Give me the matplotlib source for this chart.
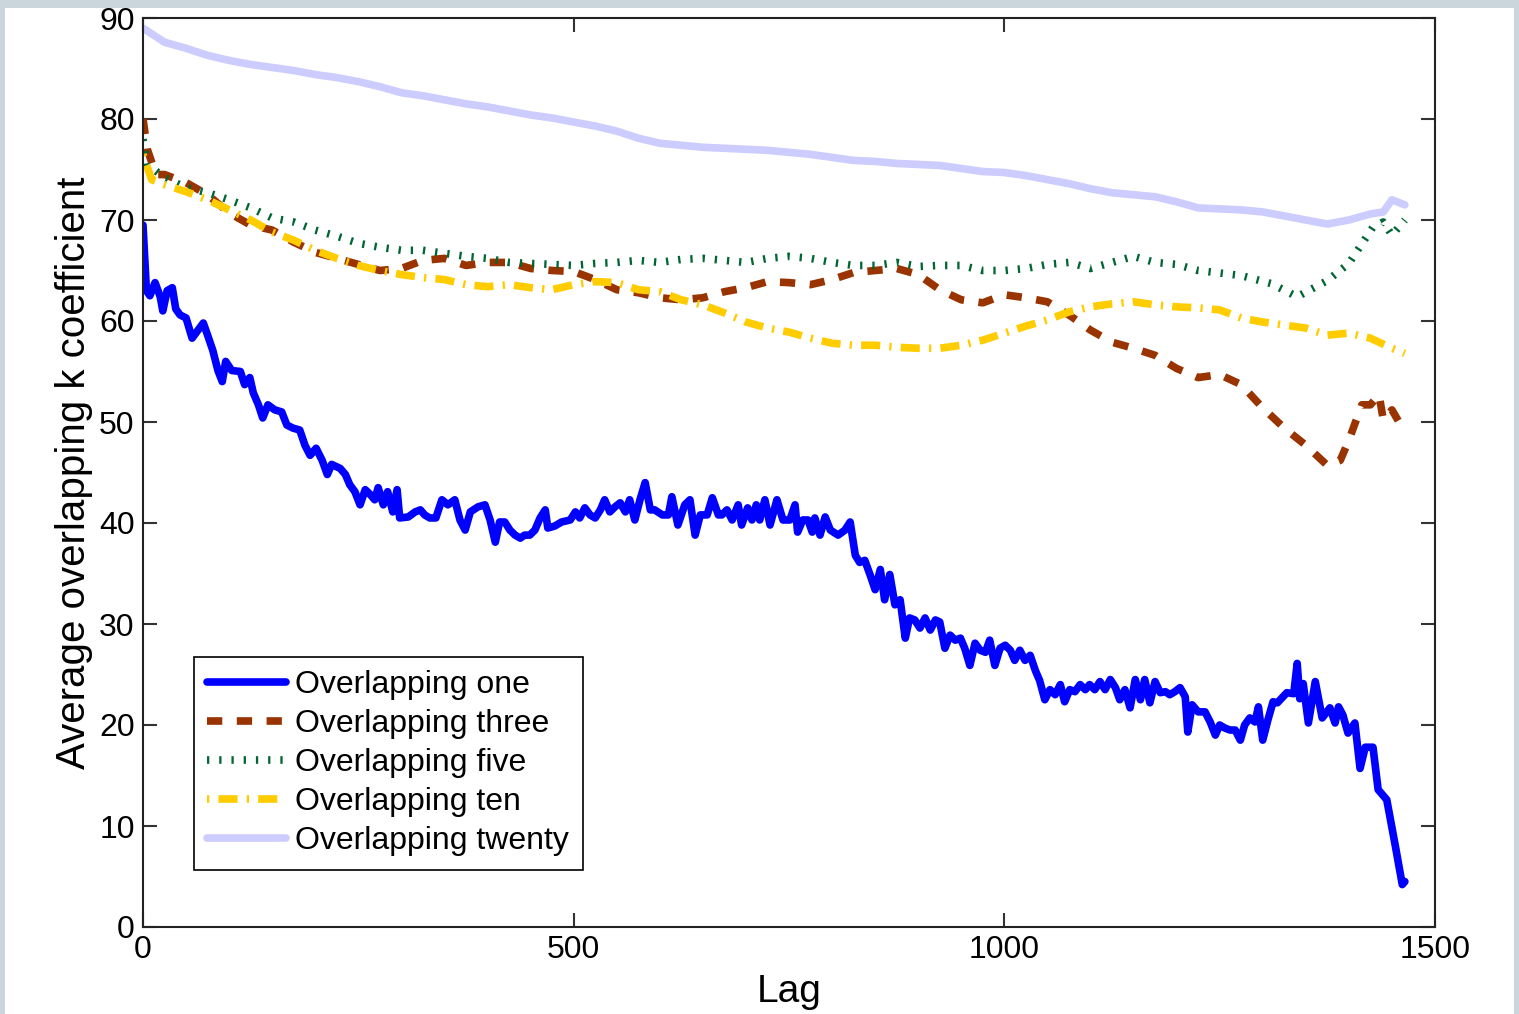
import numpy as np
import matplotlib.pyplot as plt
from matplotlib.patches import Rectangle

plt.rcParams['font.family'] = ['Liberation Sans', 'DejaVu Sans']

# overlapping one (irregular lags)
lag_one = [0, 4, 8, 14, 20, 23, 28, 34, 38, 43, 50, 57, 63, 70, 75, 81, 87, 92, 96, 103,
           113, 118, 124, 128, 134, 139, 145, 153, 161, 167, 174, 182, 188, 194, 201, 208,
           214, 219, 229, 235, 240, 246, 252, 258, 264, 269, 273, 279, 284, 290, 295, 298,
           308, 316, 322, 327, 333, 340, 347, 354, 362, 368, 374, 380, 389, 397, 403, 409,
           414, 420, 426, 432, 438, 443, 449, 455, 461, 467, 470, 478, 486, 496, 502, 507,
           513, 519, 525, 531, 536, 542, 548, 554, 560, 565, 571, 577, 583, 589, 594, 603,
           610, 614, 621, 629, 635, 641, 647, 655, 661, 668, 672, 678, 684, 691, 695, 702,
           707, 712, 716, 722, 728, 736, 743, 751, 757, 760, 766, 772, 777, 780, 786, 792,
           798, 807, 815, 821, 827, 832, 838, 844, 850, 856, 861, 867, 873, 879, 885, 890,
           896, 902, 908, 914, 920, 925, 931, 937, 943, 949, 954, 960, 966, 972, 978, 983,
           989, 995, 1001, 1007, 1012, 1018, 1024, 1030, 1036, 1041, 1047, 1053, 1059, 1065,
           1070, 1076, 1082, 1088, 1094, 1099, 1105, 1111, 1117, 1123, 1129, 1134, 1140, 1146,
           1152, 1158, 1163, 1169, 1175, 1181, 1187, 1192, 1198, 1204, 1210, 1213, 1218, 1225,
           1233, 1239, 1245, 1250, 1256, 1262, 1268, 1274, 1279, 1285, 1291, 1295, 1300, 1306,
           1312, 1317, 1328, 1336, 1340, 1343, 1347, 1353, 1361, 1369, 1378, 1384, 1388, 1393,
           1399, 1407, 1413, 1419, 1428, 1434, 1444, 1454, 1462, 1465]
one = [69.5, 63, 62.5, 63.8, 62.4, 61, 63, 63.3, 61.2, 60.6, 60.3, 58.3, 59, 59.8, 58.6, 57.1,
       55.1, 54, 56, 55.1, 55, 53.7, 54.4, 52.9, 51.7, 50.4, 51.7, 51.2, 51, 49.7, 49.4, 49.2,
       47.7, 46.7, 47.4, 46.2, 44.8, 45.8, 45.4, 44.8, 43.8, 43.1, 41.8, 43.3, 42.8, 42.3, 43.5,
       41.8, 43.1, 41.1, 43.3, 40.5, 40.6, 41.1, 41.3, 40.8, 40.5, 40.5, 42.3, 41.8, 42.3, 40.3,
       39.3, 41.1, 41.6, 41.8, 40.3, 38.1, 40.1, 40.1, 39.3, 38.8, 38.5, 38.8, 38.8, 39.3, 40.5,
       41.3, 39.5, 39.7, 40.1, 40.3, 41.1, 40.5, 41.5, 40.8, 40.5, 41.3, 42.3, 41.1, 41.6, 42,
       41.1, 42.3, 40.3, 42.3, 44, 41.3, 41.3, 40.8, 40.8, 42.6, 39.8, 41.8, 42.3, 38.8, 40.8,
       40.8, 42.5, 40.8, 40.8, 41.3, 40.3, 41.8, 39.8, 41.5, 40.3, 41.8, 40.3, 42.3, 39.8, 42.3,
       40.3, 40.3, 41.8, 39.1, 40.3, 40.3, 39.1, 40.5, 38.8, 40.6, 39.3, 38.8, 39.3, 40.1, 36.8,
       36.1, 36.3, 34.9, 33.4, 35.4, 32.4, 34.9, 31.9, 32.4, 28.6, 30.6, 30.4, 29.6, 30.6, 29.4,
       30.4, 30.2, 27.6, 28.9, 28.4, 28.6, 27.6, 25.9, 28.1, 27.4, 27.2, 28.4, 25.9, 27.6, 27.9,
       27.4, 26.4, 27.4, 26.4, 26.9, 25.4, 24.4, 22.5, 23.5, 23, 24, 22.3, 23.5, 23.3, 24, 23.5,
       24, 23.5, 24.3, 23.5, 24.5, 23.7, 22.5, 23.5, 21.7, 24.5, 22.5, 24.5, 22.2, 24.3, 23.2,
       23.3, 23, 23.3, 23.7, 22.8, 19.3, 22, 21.3, 21.3, 20.3, 19, 20, 19.7, 19.5, 19.5, 18.5,
       20, 20.7, 20.3, 21.8, 18.5, 20.5, 22.3, 22.2, 23.2, 23.1, 26.1, 22.6, 24.1, 20.2, 24.3,
       20.7, 21.7, 20.2, 21.8, 21.0, 19.2, 20.2, 15.7, 17.8, 17.8, 13.6, 12.6, 8.0, 4.2, 4.5]

# smoother series, read every 25 lags plus the ends
lag_three = [0, 5, 15, 25, 50, 75, 100, 125, 150, 175, 200, 225, 250, 275, 300, 325, 350, 375,
             400, 425, 450, 475, 500, 525, 550, 575, 600, 625, 650, 675, 700, 725, 750, 775,
             800, 825, 850, 875, 900, 925, 950, 975, 1000, 1025, 1050, 1075, 1100, 1125, 1150,
             1175, 1200, 1225, 1250, 1275, 1300, 1325, 1350, 1375, 1390, 1400, 1415, 1425, 1435,
             1440, 1450, 1465]
three = [80, 77, 74.5, 74.5, 73.7, 72.5, 70.7, 69.5, 69.0, 67.8, 66.8, 66.2, 65.6, 65.0, 65.2,
         66.0, 66.2, 65.5, 65.8, 65.8, 65.2, 65.0, 64.9, 64.1, 63.1, 62.8, 62.3, 62.1, 62.3, 62.9,
         63.3, 63.9, 63.8, 63.6, 64.1, 64.8, 65.0, 65.2, 64.6, 63.1, 62.1, 61.8, 62.6, 62.3, 61.9,
         60.6, 59.1, 57.9, 57.3, 56.6, 55.3, 54.4, 54.7, 53.7, 51.4, 49.4, 47.7, 45.7, 46.2, 48.2,
         51.7, 51.7, 52.7, 50.2, 51.2, 49.0]

lag_five = [0, 5, 25, 50, 75, 100, 125, 150, 175, 200, 225, 250, 275, 300, 325, 350, 375, 400,
            425, 450, 475, 500, 525, 550, 575, 600, 625, 650, 675, 700, 725, 750, 775, 800, 825,
            850, 875, 900, 925, 950, 975, 1000, 1025, 1050, 1075, 1100, 1125, 1150, 1175, 1200,
            1225, 1275, 1310, 1340, 1375, 1400, 1428, 1440, 1450, 1465]
five = [78, 75.5, 74.2, 73.2, 72.7, 72.0, 71.2, 70.2, 69.8, 69.0, 68.4, 67.7, 67.3, 67.0, 67.0,
        66.7, 66.4, 66.2, 65.8, 65.7, 65.6, 65.5, 65.7, 65.8, 66.0, 65.8, 66.1, 66.2, 66.0, 65.8,
        66.2, 66.4, 66.2, 65.8, 65.5, 65.5, 65.8, 65.4, 65.5, 65.5, 65.0, 65.0, 65.2, 65.6, 65.8,
        65.2, 65.8, 66.4, 65.8, 65.6, 65.0, 64.5, 63.7, 62.4, 64.0, 65.7, 69.3, 69.8, 68.5, 70.0]

lag_ten = [0, 10, 25, 50, 75, 100, 125, 150, 175, 200, 225, 250, 275, 300, 325, 350, 375, 400,
           425, 450, 475, 500, 525, 550, 575, 600, 625, 650, 675, 700, 725, 750, 775, 800, 825,
           850, 875, 900, 925, 950, 975, 1000, 1025, 1050, 1075, 1100, 1125, 1150, 1175, 1200,
           1225, 1250, 1275, 1300, 1325, 1350, 1375, 1400, 1425, 1450, 1465]
ten = [76.5, 74, 73.5, 72.8, 72.0, 71.0, 70.0, 68.8, 68.0, 67.0, 66.2, 65.5, 65.0, 64.6, 64.3,
       64.1, 63.6, 63.4, 63.6, 63.3, 63.1, 63.6, 63.9, 63.8, 63.1, 62.9, 62.1, 61.6, 60.8, 59.9,
       59.3, 58.9, 58.3, 57.8, 57.6, 57.6, 57.4, 57.3, 57.3, 57.6, 58.1, 58.8, 59.5, 60.1, 60.9,
       61.4, 61.7, 61.9, 61.6, 61.4, 61.3, 61.1, 60.3, 59.9, 59.6, 59.3, 58.6, 58.8, 58.3, 57.3,
       56.8]

lag_twenty = [0, 25, 50, 75, 100, 125, 150, 175, 200, 225, 250, 275, 300, 325, 350, 375, 400,
              425, 450, 475, 500, 525, 550, 575, 600, 625, 650, 675, 700, 725, 750, 775, 800,
              825, 850, 875, 900, 925, 950, 975, 1000, 1025, 1050, 1075, 1100, 1125, 1150, 1175,
              1200, 1225, 1250, 1275, 1300, 1325, 1350, 1375, 1400, 1425, 1440, 1450, 1465]
twenty = [89, 87.6, 87.0, 86.3, 85.8, 85.4, 85.1, 84.8, 84.4, 84.1, 83.7, 83.2, 82.6, 82.3, 81.9,
          81.5, 81.2, 80.8, 80.4, 80.1, 79.7, 79.3, 78.8, 78.1, 77.6, 77.4, 77.2, 77.1, 77.0, 76.9,
          76.7, 76.5, 76.2, 75.9, 75.8, 75.6, 75.5, 75.4, 75.1, 74.8, 74.7, 74.4, 74.0, 73.6, 73.1,
          72.7, 72.5, 72.3, 71.8, 71.2, 71.1, 71.0, 70.8, 70.4, 70.0, 69.6, 70.0, 70.6, 70.8, 72.0,
          71.5]

fig = plt.figure(figsize=(15.19, 10.14), dpi=100, facecolor='#cbd5dc')
fig.patches.append(Rectangle((5 / 1519, 0), 1509 / 1519, 1006 / 1014,
                             transform=fig.transFigure, facecolor='white', edgecolor='none',
                             zorder=-10))
ax = fig.add_axes([143 / 1519, 1 - 927 / 1014, 1292 / 1519, 909 / 1014])

lw = 5.5
ax.plot(lag_one, one, color='#0000ff', lw=lw, label='Overlapping one',
        solid_joinstyle='round', solid_capstyle='round')
ax.plot(lag_three, three, color='#993300', lw=lw, linestyle=(0, (2.0, 1.9)),
        label='Overlapping three')
ax.plot(lag_five, five, color='#006633', lw=lw, linestyle=(0, (0.3, 1.3)),
        label='Overlapping five')
ax.plot(lag_ten, ten, color='#ffcc00', lw=lw, linestyle=(0, (0.3, 1.2, 2.5, 1.2)),
        label='Overlapping ten')
ax.plot(lag_twenty, twenty, color='#ccccff', lw=lw, label='Overlapping twenty',
        solid_joinstyle='round', solid_capstyle='round')

ax.set_xlim(0, 1500)
ax.set_ylim(0, 90)
ax.set_xticks([0, 500, 1000, 1500])
ax.set_yticks(np.arange(0, 91, 10))
ax.tick_params(direction='in', length=10, width=1.5, color='#333333', labelsize=23,
               top=True, right=True)
ax.tick_params(axis='y', pad=6)
ax.tick_params(axis='x', pad=6)
for s in ax.spines.values():
    s.set_linewidth(1.5)
    s.set_color('#222222')

ax.set_xlabel('Lag', fontsize=28, labelpad=6)
ax.set_ylabel('Average overlapping k coefficient', fontsize=29, labelpad=4)

leg = ax.legend(loc='upper left', bbox_to_anchor=(51 / 1292, 270 / 909), borderaxespad=0,
                fontsize=23, fancybox=False, framealpha=1, edgecolor='black',
                handlelength=2.45, handletextpad=0.3, labelspacing=0.28, borderpad=0.42)
leg.get_frame().set_linewidth(1.2)

fig.savefig('out.png', dpi=100, facecolor=fig.get_facecolor())
